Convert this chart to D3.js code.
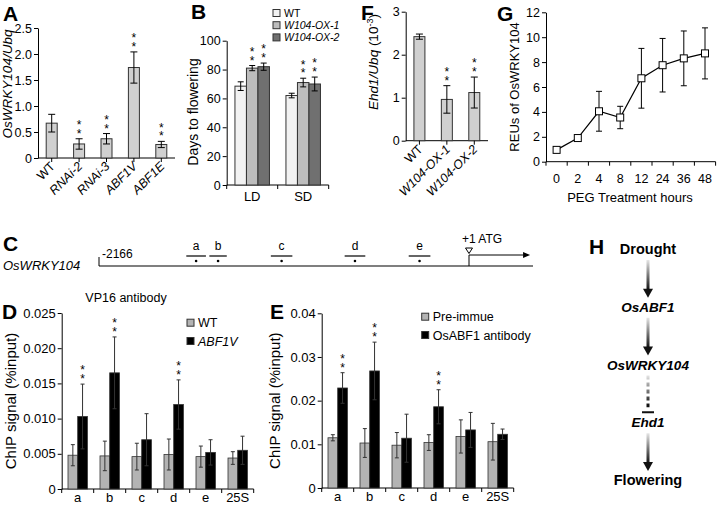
<!DOCTYPE html>
<html><head><meta charset="utf-8">
<script src="https://cdn.jsdelivr.net/npm/d3@7"></script>
<style>body{margin:0;background:#fff}svg{display:block}
.stars{writing-mode:vertical-rl;text-orientation:upright}</style>
</head><body>
<svg id="fig" width="717" height="506"></svg>
<script>
// ---------- DATA ----------
const aCategories = ["WT","RNAi-2","RNAi-3","ABF1V","ABF1E"];
const aValues = [0.67, 0.27, 0.37, 1.74, 0.26];
const aErrors = [0.17, 0.10, 0.10, 0.30, 0.06];
const aSignif = [false, true, true, true, true];
const aTicks = [0, 0.5, 1.0, 1.5, 2.0, 2.5];

const bGroups = ["LD","SD"];
const bSeries = ["WT","W104-OX-1","W104-OX-2"];
const bWT = [68.5, 62];
const bOX1 = [81, 71];
const bOX2 = [82, 70];
const bErrWT = [3, 1.6];
const bErrOX1 = [1.8, 3];
const bErrOX2 = [2.5, 4.8];
const bSigWT = [false,false], bSigOX1 = [true,true], bSigOX2 = [true,true];
const bTicks = [0,20,40,60,80,100];

const fCategories = ["WT","W104-OX-1","W104-OX-2"];
const fValues = [2.42, 0.96, 1.12];
const fErrors = [0.06, 0.32, 0.36];
const fSignif = [false, true, true];
const fTicks = [0,1,2,3];

const gHours = ["0","2","4","8","12","24","36","48"];
const gValues = [0.95, 1.9, 4.05, 3.55, 6.7, 7.75, 8.3, 8.7];
const gErrors = [0.2, 0.15, 1.6, 0.9, 2.4, 2.15, 2.2, 2.05];
const gTicks = [0,2,4,6,8,10,12];

const cFragments = ["a","b","c","d","e"];
const cStart = [-1655, -1520, -1160, -728, -353];
const cEnd   = [-1540, -1418, -1034, -607, -226];
const cPromoterStart = -2166, cLineEnd = 375;

const chipRegions = ["a","b","c","d","e","25S"];
const dWT      = [0.0048, 0.0047, 0.0046, 0.0049, 0.0046, 0.0044];
const dWTerr   = [0.0015, 0.0021, 0.0019, 0.0022, 0.0015, 0.0009];
const dABF1V   = [0.0103, 0.0165, 0.0070, 0.0120, 0.0052, 0.0055];
const dABF1Verr= [0.0046, 0.0051, 0.0037, 0.0035, 0.0018, 0.0020];
const dSignif  = [true, true, false, true, false, false];
const dTicks = [0,0.005,0.010,0.015,0.020,0.025];

const ePre     = [0.0115, 0.0103, 0.0098, 0.0104, 0.0118, 0.0106];
const ePreErr  = [0.0007, 0.0033, 0.0029, 0.0018, 0.0038, 0.0042];
const eABF1    = [0.0229, 0.0268, 0.0114, 0.0186, 0.0133, 0.0123];
const eABF1Err = [0.0035, 0.0066, 0.0055, 0.0039, 0.0040, 0.0012];
const eSignif  = [true, true, false, true, false, false];
const eTicks = [0,0.01,0.02,0.03,0.04];

const hSteps = ["Drought","OsABF1","OsWRKY104","Ehd1","Flowering"];
const hItalic = [false,true,true,true,false];
const hLinks = ["arrow","arrow","inhibit","arrow"];

// ---------- HELPERS ----------
const FONT = "'Liberation Sans', Arial, Helvetica, sans-serif";
const svg = d3.select("#fig").attr("font-family", FONT);
svg.append("rect").attr("width",717).attr("height",506).attr("fill","#fff");
const defs = svg.append("defs");

function panelLabel(t,x,y){ svg.append("text").attr("x",x).attr("y",y).attr("font-weight","bold").attr("font-size",21).text(t); }
function yAxis(scale, ticks, fmt, x, fs){
  const g = svg.append("g").attr("transform",`translate(${x},0)`)
    .call(d3.axisLeft(scale).tickValues(ticks).tickFormat(fmt).tickSize(4).tickSizeOuter(0).tickPadding(2));
  g.attr("font-family",FONT).attr("font-size",fs);
  g.selectAll("line,path").attr("stroke","#000");
  g.selectAll("text").attr("fill","#000");
  return g;
}
function yLabel(x,y,fs,build){
  const t = svg.append("text").attr("transform",`translate(${x},${y}) rotate(-90)`).attr("text-anchor","middle").attr("font-size",fs);
  build(t); return t;
}
function hline(x1,x2,y){ svg.append("line").attr("x1",x1).attr("x2",x2).attr("y1",y).attr("y2",y).attr("stroke","#000"); }
function errBar(cx,yTop,yBot,w,col){
  const g = svg.append("g").attr("stroke",col||"#000").attr("stroke-width",1);
  g.append("line").attr("x1",cx).attr("x2",cx).attr("y1",yTop).attr("y2",yBot);
  g.append("line").attr("x1",cx-w/2).attr("x2",cx+w/2).attr("y1",yTop).attr("y2",yTop);
  g.append("line").attr("x1",cx-w/2).attr("x2",cx+w/2).attr("y1",yBot).attr("y2",yBot);
}
// two stacked asterisks as one upright vertical text run
function stars(cx,yTop){
  svg.append("text").attr("class","stars").attr("x",cx).attr("y",yTop-20.7)
     .attr("font-size",12).attr("letter-spacing",-5.3).attr("fill","#000").text("**");
}
const isItalic = n => n !== "WT";

// ---------- PANEL A ----------
panelLabel("A",3,21);
const yA = d3.scaleLinear([0,2.5],[158,28]);
const xA = d3.scaleBand(aCategories,[38,175]);
yAxis(yA, aTicks, d=> d===0 ? "0" : d3.format(".1f")(d), 38, 12.5);
hline(38,175,158);
aCategories.forEach((c,i)=>{
  const cx = xA(c)+xA.bandwidth()/2, bw=11;
  svg.append("rect").attr("x",cx-bw/2).attr("y",yA(aValues[i])).attr("width",bw).attr("height",yA(0)-yA(aValues[i]))
     .attr("fill","#d0d0d0").attr("stroke","#333");
  errBar(cx, yA(aValues[i]+aErrors[i]), yA(aValues[i]-aErrors[i]), 7);
  if(aSignif[i]) stars(cx, yA(aValues[i]+aErrors[i]));
  svg.append("line").attr("x1",cx).attr("x2",cx).attr("y1",158).attr("y2",162).attr("stroke","#000");
  svg.append("text").attr("transform",`translate(${cx+4},${167}) rotate(-45)`).attr("text-anchor","end")
     .attr("font-size",12.5).attr("font-style",isItalic(c)?"italic":"normal").text(c);
});
yLabel(12,84,13.5,t=>t.attr("font-style","italic").text("OsWRKY104/Ubq"));

// ---------- PANEL B ----------
panelLabel("B",191,19);
const yB = d3.scaleLinear([0,100],[185,40.7]);
const xB = d3.scaleBand(bGroups,[226.7,328.7]);
const bColors = ["#f2f2f2","#bdbdbd","#707070"];
const bVals = [bWT,bOX1,bOX2], bErrs=[bErrWT,bErrOX1,bErrOX2], bSigs=[bSigWT,bSigOX1,bSigOX2];
yAxis(yB, bTicks, d3.format("d"), 226.7, 12.5);
hline(226.7,328.7,185);
xB.domain().map(d=>xB(d)).concat([xB.range()[1]]).forEach(x=>svg.append("line").attr("x1",x).attr("x2",x).attr("y1",185).attr("y2",189).attr("stroke","#000"));
bGroups.forEach((g,gi)=>{
  const c = xB(g)+xB.bandwidth()/2, bw=11.5;
  bSeries.forEach((s,si)=>{
    const x = c+(si-1.5)*bw, v=bVals[si][gi], e=bErrs[si][gi];
    svg.append("rect").attr("x",x).attr("y",yB(v)).attr("width",bw).attr("height",yB(0)-yB(v)).attr("fill",bColors[si]).attr("stroke","#333");
    errBar(x+bw/2, yB(v+e), yB(v-e), 6);
    if(bSigs[si][gi]) stars(x+bw/2, yB(v+e));
  });
  svg.append("text").attr("x",c).attr("y",201).attr("text-anchor","middle").attr("font-size",13).text(g);
});
bSeries.forEach((s,si)=>{
  const y = 13 + si*12.2;
  svg.append("rect").attr("x",273).attr("y",y-3.5).attr("width",7).attr("height",7).attr("fill",bColors[si]).attr("stroke","#333");
  svg.append("text").attr("x",284).attr("y",y+4).attr("font-size",10.5).attr("font-style",isItalic(s)?"italic":"normal").text(s);
});
yLabel(198,112,14,t=>t.text("Days to flowering"));

// ---------- PANEL F ----------
panelLabel("F",361,20);
const yF = d3.scaleLinear([0,3],[140.7,11.7]);
const xF = d3.scaleBand(fCategories,[405.7,488]);
yAxis(yF, fTicks, d3.format("d"), 405.7, 12.5);
hline(405.7,488,140.7);
fCategories.forEach((c,i)=>{
  const cx = xF(c)+xF.bandwidth()/2, bw=11;
  svg.append("rect").attr("x",cx-bw/2).attr("y",yF(fValues[i])).attr("width",bw).attr("height",yF(0)-yF(fValues[i]))
     .attr("fill","#d0d0d0").attr("stroke","#333");
  errBar(cx, yF(fValues[i]+fErrors[i]), yF(fValues[i]-fErrors[i]), 7);
  if(fSignif[i]) stars(cx, yF(fValues[i]+fErrors[i]));
  svg.append("line").attr("x1",cx).attr("x2",cx).attr("y1",140.7).attr("y2",144.7).attr("stroke","#000");
  svg.append("text").attr("transform",`translate(${cx+4},${150}) rotate(-45)`).attr("text-anchor","end")
     .attr("font-size",12.5).attr("font-style",isItalic(c)?"italic":"normal").text(c);
});
yLabel(378,62,13.5,t=>{
  t.append("tspan").attr("font-style","italic").text("Ehd1/Ubq");
  t.append("tspan").text(" (10");
  t.append("tspan").attr("font-size",9).attr("dy",-5).text("-3");
  t.append("tspan").attr("dy",5).text(")");
});

// ---------- PANEL G ----------
panelLabel("G",497,21);
const yG = d3.scaleLinear([0,12],[161.7,12.3]);
const xG = d3.scaleBand(gHours,[546,715.6]);
yAxis(yG, gTicks, d3.format("d"), 546, 12.5);
hline(546,715.6,161.7);
xG.domain().map(d=>xG(d)).concat([xG.range()[1]]).forEach(x=>svg.append("line").attr("x1",x).attr("x2",x).attr("y1",161.7).attr("y2",165.7).attr("stroke","#000"));
const gx = h=>xG(h)+xG.bandwidth()/2;
gHours.forEach((h,i)=>errBar(gx(h), yG(gValues[i]+gErrors[i]), yG(gValues[i]-gErrors[i]), 6));
svg.append("path").attr("d", d3.line().x((d,i)=>gx(gHours[i])).y(d=>yG(d))(gValues)).attr("fill","none").attr("stroke","#000").attr("stroke-width",1.2);
gHours.forEach((h,i)=>{
  svg.append("rect").attr("x",gx(h)-3.5).attr("y",yG(gValues[i])-3.5).attr("width",7).attr("height",7).attr("fill","#fff").attr("stroke","#000");
  svg.append("text").attr("x",gx(h)).attr("y",183).attr("text-anchor","middle").attr("font-size",12.5).text(h);
});
svg.append("text").attr("x",630).attr("y",202).attr("text-anchor","middle").attr("font-size",13).text("PEG Treatment hours");
yLabel(519,87,13,t=>t.text("REUs of OsWRKY104"));

// ---------- PANEL C ----------
panelLabel("C",3,251);
svg.append("text").attr("x",3).attr("y",270).attr("font-size",13).attr("font-style","italic").text("OsWRKY104");
const xC = d3.scaleLinear([cPromoterStart, 0],[99,469]);
const lineY = 266;
svg.append("line").attr("x1",xC(cPromoterStart)).attr("x2",xC(cLineEnd)).attr("y1",lineY).attr("y2",lineY).attr("stroke","#000").attr("stroke-width",1.2);
svg.append("line").attr("x1",xC(cPromoterStart)).attr("x2",xC(cPromoterStart)).attr("y1",lineY-9).attr("y2",lineY).attr("stroke","#000");
svg.append("text").attr("x",xC(cPromoterStart)+3).attr("y",258).attr("font-size",12).text(String(cPromoterStart));
cFragments.forEach((f,i)=>{
  const x1=xC(cStart[i]), x2=xC(cEnd[i]), cx=(x1+x2)/2;
  svg.append("line").attr("x1",x1).attr("x2",x2).attr("y1",256).attr("y2",256).attr("stroke","#000").attr("stroke-width",1.2);
  svg.append("circle").attr("cx",cx).attr("cy",261).attr("r",1.3).attr("fill","#000");
  svg.append("text").attr("x",cx).attr("y",250).attr("text-anchor","middle").attr("font-size",12).text(f);
});
const atgX = xC(0);
svg.append("line").attr("x1",atgX).attr("x2",atgX).attr("y1",lineY).attr("y2",255).attr("stroke","#000");
svg.append("line").attr("x1",atgX).attr("x2",xC(cLineEnd)-10).attr("y1",255).attr("y2",255).attr("stroke","#000");
svg.append("path").attr("d",`M${xC(cLineEnd)-10},252 L${xC(cLineEnd)-3},255 L${xC(cLineEnd)-10},258 Z`).attr("fill","#000");
svg.append("path").attr("d",`M${atgX-3.5},248 L${atgX+3.5},248 L${atgX},253.5 Z`).attr("fill","#fff").attr("stroke","#000");
svg.append("text").attr("x",atgX-7).attr("y",243).attr("font-size",12).text("+1 ATG");

// ---------- ChIP panels D & E ----------
function chip(cfg){
  const y = d3.scaleLinear([0,cfg.max],[cfg.y0,cfg.y1]);
  const x = d3.scaleBand(chipRegions,[cfg.x0,cfg.x1]);
  yAxis(y, cfg.ticks, cfg.fmt, cfg.x0, 13);
  hline(cfg.x0,cfg.x1,cfg.y0);
  x.domain().map(d=>x(d)).concat([x.range()[1]]).forEach(xx=>svg.append("line").attr("x1",xx).attr("x2",xx).attr("y1",cfg.y0).attr("y2",cfg.y0+4).attr("stroke","#000"));
  const bw=9.7;
  chipRegions.forEach((r,i)=>{
    const c = x(r)+x.bandwidth()/2;
    [[cfg.s1,cfg.e1,"#b3b3b3",c-bw],[cfg.s2,cfg.e2,"#000",c]].forEach(([vals,errs,col,bx])=>{
      const v=vals[i], e=errs[i];
      svg.append("rect").attr("x",bx).attr("y",y(v)).attr("width",bw).attr("height",cfg.y0-y(v)).attr("fill",col).attr("stroke","#333").attr("stroke-width",0.8);
      errBar(bx+bw/2, y(v+e), y(v-e), 4, "#333");
    });
    if(cfg.sig[i]) stars(c+bw/2, y(cfg.s2[i]+cfg.e2[i]));
    svg.append("text").attr("x",c).attr("y",cfg.y0+13).attr("text-anchor","middle").attr("font-size",13).text(r);
  });
  cfg.legend.forEach((s,si)=>{
    const ly = cfg.ly + si*18.3;
    svg.append("rect").attr("x",cfg.lx).attr("y",ly-3.5).attr("width",7).attr("height",7).attr("fill",si?"#000":"#b3b3b3").attr("stroke","#333");
    svg.append("text").attr("x",cfg.lx+11).attr("y",ly+4.5).attr("font-size",12.5).attr("font-style",cfg.legItalic[si]?"italic":"normal").text(s);
  });
  yLabel(cfg.labX,(cfg.y0+cfg.y1)/2,15,t=>t.text("ChIP signal (%input)"));
}
panelLabel("D",2,319);
svg.append("text").attr("x",126).attr("y",302).attr("text-anchor","middle").attr("font-size",12.5).text("VP16 antibody");
chip({max:0.025,y0:489,y1:313,x0:61.7,x1:253.7,ticks:dTicks,fmt:d=>d===0?"0":d3.format(".3f")(d),
  s1:dWT,e1:dWTerr,s2:dABF1V,e2:dABF1Verr,sig:dSignif,legend:["WT","ABF1V"],legItalic:[false,true],lx:187,ly:322.7,labX:16});
panelLabel("E",270,319);
chip({max:0.04,y0:488,y1:313.3,x0:321.7,x1:513.7,ticks:eTicks,fmt:d=>d===0?"0":d3.format(".2f")(d),
  s1:ePre,e1:ePreErr,s2:eABF1,e2:eABF1Err,sig:eSignif,legend:["Pre-immue","OsABF1 antibody"],legItalic:[false,false],lx:421.7,ly:316.7,labX:280});

// ---------- PANEL H ----------
panelLabel("H",589,254);
const hx = 648;
const hY = d3.scalePoint(hSteps,[249,480]);
hSteps.forEach((s,i)=>{
  svg.append("text").attr("x",hx).attr("y",hY(s)+5).attr("text-anchor","middle").attr("font-weight","bold")
     .attr("font-style",hItalic[i]?"italic":"normal").attr("font-size",hItalic[i]?13.5:14.5).text(s);
});
hLinks.forEach((type,i)=>{
  const top = hY(hSteps[i])+11, bot = hY(hSteps[i+1])-9;
  const gid = "hg"+i;
  const gr = defs.append("linearGradient").attr("id",gid).attr("gradientUnits","userSpaceOnUse").attr("x1",0).attr("x2",0).attr("y1",top).attr("y2",bot-8);
  gr.append("stop").attr("offset",0).attr("stop-color","#e6e6e6");
  gr.append("stop").attr("offset",1).attr("stop-color","#111");
  if(type==="arrow"){
    svg.append("rect").attr("x",hx-1.5).attr("y",top).attr("width",3).attr("height",bot-8-top).attr("fill",`url(#${gid})`);
    svg.append("path").attr("d",`M${hx-5},${bot-9} L${hx+5},${bot-9} L${hx},${bot} Z`).attr("fill","#111");
  } else {
    const dEnd = bot-6;
    for(let yy=top; yy<dEnd-2; yy+=7){
      svg.append("rect").attr("x",hx-1.5).attr("y",yy).attr("width",3).attr("height",Math.min(4,dEnd-yy)).attr("fill",`url(#${gid})`);
    }
    svg.append("rect").attr("x",hx-6).attr("y",bot-2).attr("width",12).attr("height",2).attr("fill","#111");
  }
});
</script>
</body></html>
